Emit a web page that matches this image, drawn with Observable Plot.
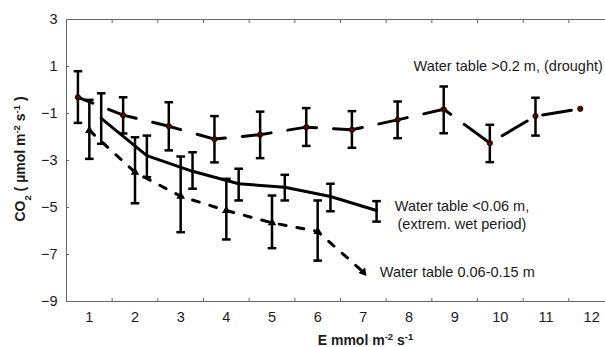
<!DOCTYPE html>
<html><head><meta charset="utf-8">
<script src="https://cdn.jsdelivr.net/npm/d3@7"></script>
<script src="https://cdn.jsdelivr.net/npm/@observablehq/plot@0.6"></script>
<style>
html,body{margin:0;padding:0;background:#fff;}
#chart svg{display:block;}
</style></head><body><div id="chart"></div>
<script>
// Water table >0.2 m (drought)
const droughtE   = [0.75, 1.74, 2.74, 3.74, 4.74, 5.75, 6.75, 7.75, 8.76, 9.77, 10.77, 11.75];
const droughtCO2 = [-0.31, -1.07, -1.54, -2.09, -1.90, -1.58, -1.69, -1.27, -0.82, -2.26, -1.11, -0.80];
const droughtLo  = [-1.40, -1.85, -2.57, -3.08, -2.90, -2.38, -2.46, -2.05, -1.84, -3.07, -1.94, null];
const droughtHi  = [0.80, -0.31, -0.52, -1.11, -0.92, -0.77, -0.90, -0.49, 0.15, -1.48, -0.33, null];

// Water table <0.06 m (extrem. wet period)
const wetE   = [1.26, 2.26, 3.26, 4.27, 5.28, 6.28, 7.29];
const wetCO2 = [-1.21, -2.79, -3.46, -3.99, -4.14, -4.53, -5.13];
const wetLo  = [-2.29, -3.71, -4.20, -4.70, -4.70, -5.16, -5.60];
const wetHi  = [-0.14, -1.94, -2.65, -3.35, -3.61, -3.99, -4.73];

// Water table 0.06-0.15 m
const midE   = [1, 2, 3, 4, 5, 6, 7];
const midCO2 = [-1.72, -3.50, -4.52, -5.13, -5.65, -6.02, -7.75];
const midLo  = [-2.93, -4.82, -6.05, -6.36, -6.73, -7.26, null];
const midHi  = [-0.42, -2.01, -2.83, -3.78, -4.49, -4.70, null];

const xTickLabels = [1, 2, 3, 4, 5, 6, 7, 8, 9, 10, 11, 12];
const xTickMarks = [0.5, 1.5, 2.5, 3.5, 4.5, 5.5, 6.5, 7.5, 8.5, 9.5, 10.5, 11.5, 12.5];
const yTicks = [-9, -7, -5, -3, -1, 1, 3];

const labelText = ["Water table >0.2 m, (drought)", "Water table <0.06 m,\n(extrem. wet period)", "Water table 0.06-0.15 m"];
const labelE = [8.1, 9.16, 7.36];
const labelCO2 = [1.0, -5.3, -7.77];

const xTitle = "E mmol m-2 s-1";
const yTitle = "CO2 ( µmol m-2 s-1 )";

function rows(E, V, lo, hi) {
  return E.map((e, i) => ({E: e, CO2: V[i], lo: lo[i], hi: hi[i]}));
}
const drought = rows(droughtE, droughtCO2, droughtLo, droughtHi);
const wet = rows(wetE, wetCO2, wetLo, wetHi);
const mid = rows(midE, midCO2, midLo, midHi);
const allErr = [...drought, ...wet, ...mid].filter(d => d.lo != null);
const labels = labelText.map((t, i) => ({t, E: labelE[i], CO2: labelCO2[i]}));

const cap = {draw(ctx, size) { const w = Math.sqrt(size / Math.PI); ctx.moveTo(-w, 0); ctx.lineTo(w, 0); }};
const FONT = "Arial, 'Liberation Sans', sans-serif";
const AX = "#666";

const plot = Plot.plot({
  width: 605, height: 347,
  marginLeft: 66, marginTop: 19, marginBottom: 46, marginRight: -9,
  style: {fontFamily: FONT, fontSize: "14.5px", color: "#1a1a1a", background: "#fff"},
  x: {domain: [0.5, 12.5]},
  y: {domain: [-9, 3]},
  marks: [
    Plot.ruleY([3], {stroke: AX}),
    Plot.ruleY([-9], {stroke: AX}),
    Plot.ruleX([0.5], {stroke: AX}),
    Plot.axisX(xTickMarks, {anchor: "bottom", tickSize: -3, tickFormat: () => "", stroke: AX, label: null}),
    Plot.axisX(xTickMarks, {anchor: "top", tickSize: -3, tickFormat: () => "", stroke: AX, label: null}),
    Plot.axisX(xTickLabels, {anchor: "bottom", tickSize: 0, tickPadding: 10, label: null, fontSize: 14.5}),
    Plot.axisY(yTicks, {anchor: "left", tickSize: -3, tickFormat: () => "", stroke: AX, label: null}),
    Plot.axisY(yTicks, {anchor: "left", tickSize: 0, tickPadding: 9, label: null, fontSize: 14.5}),
    // lines
    Plot.line(drought, {x: "E", y: "CO2", stroke: "#000", strokeWidth: 3, strokeDasharray: "29,17", strokeDashoffset: 13}),
    Plot.line(wet, {x: "E", y: "CO2", stroke: "#000", strokeWidth: 3}),
    Plot.line(mid, {x: "E", y: "CO2", stroke: "#000", strokeWidth: 3, strokeDasharray: "7,11"}),
    // error bars
    Plot.ruleX(allErr, {x: "E", y1: "lo", y2: "hi", stroke: "#000", strokeWidth: 2.5}),
    Plot.dot(allErr, {x: "E", y: "hi", symbol: cap, r: 4.3, stroke: "#000", strokeWidth: 2.5}),
    Plot.dot(allErr, {x: "E", y: "lo", symbol: cap, r: 4.3, stroke: "#000", strokeWidth: 2.5}),
    // markers
    Plot.dot(drought, {x: "E", y: "CO2", r: 2.6, fill: "#5a0606", stroke: "#120000", strokeWidth: 1}),
    Plot.dot(mid, {x: "E", y: "CO2", symbol: "triangle", r: 3.2, fill: "#000",
                   rotate: (d, i) => (i === mid.length - 1 ? 140 : 0)}),
    // annotations
    Plot.text(labels.filter((d, i) => i !== 1), {x: "E", y: "CO2", text: "t", textAnchor: "start", fill: "#1a1a1a", fontSize: 14.5}),
    Plot.text(labels.filter((d, i) => i === 1), {x: "E", y: "CO2", text: "t", textAnchor: "middle", lineHeight: 1.22, fill: "#1a1a1a", fontSize: 14.5}),
    // axis titles
    Plot.text([xTitle], {frameAnchor: "bottom", textAnchor: "middle", lineAnchor: "middle", dx: 25, dy: 39.5, text: d => d, fontWeight: "bold", fontSize: 14, fill: "#1a1a1a"}),
    Plot.text([yTitle], {frameAnchor: "left", textAnchor: "middle", lineAnchor: "middle", dx: -46, dy: -1.5, rotate: -90, text: d => d, fontWeight: "bold", fontSize: 14, fill: "#1a1a1a"})
  ]
});

// rich text for the axis titles (sub/superscripts)
const rich = {
  [xTitle]: [["E mmol m", ""], ["-2", "super"], [" s", ""], ["-1", "super"]],
  [yTitle]: [["CO", ""], ["2", "sub"], [" ( µmol m", ""], ["-2", "super"], [" s", ""], ["-1", "super"], [" )", ""]]
};
d3.select(plot).selectAll("text").each(function() {
  const parts = rich[this.textContent];
  if (!parts) return;
  const el = d3.select(this);
  el.text(null);
  parts.forEach(([s, shift]) => {
    const ts = el.append("tspan").text(s);
    if (shift) ts.attr("baseline-shift", shift).attr("font-size", "0.68em");
  });
});

document.getElementById("chart").appendChild(plot);
</script>
</body></html>
